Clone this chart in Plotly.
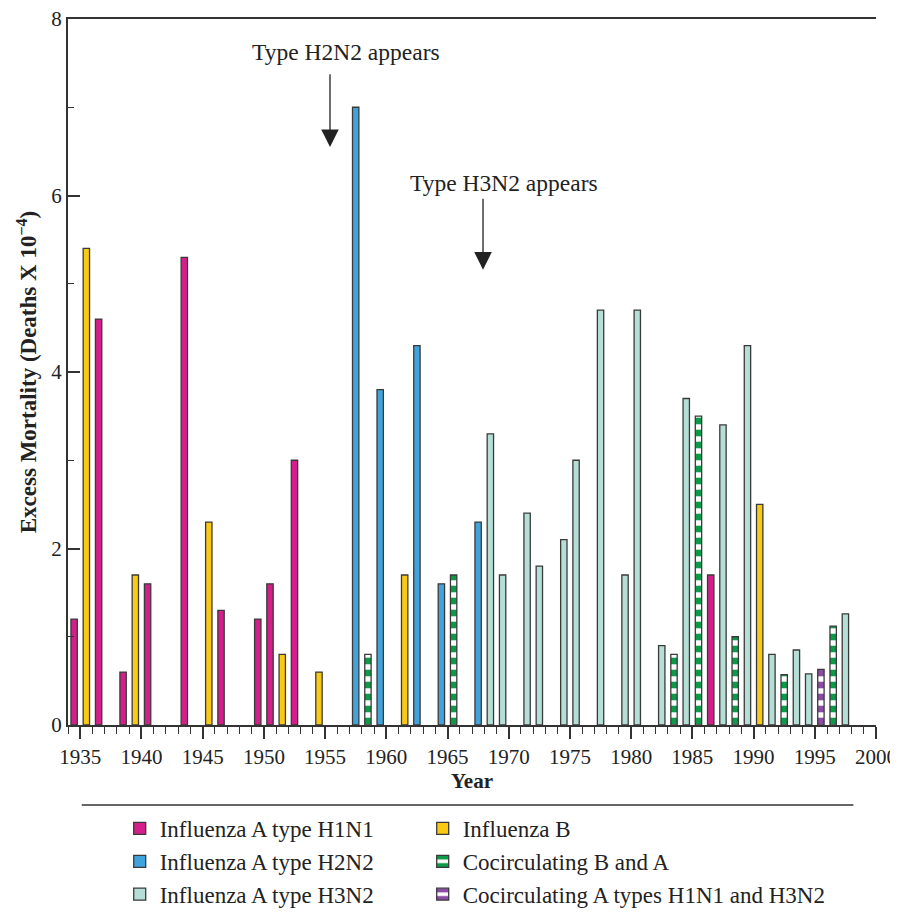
import plotly.graph_objects as go

# ---- data (season start year, excess mortality x1e-4) ----
h1n1_years = [1934, 1936, 1938, 1940, 1943, 1946, 1949, 1950, 1952, 1986]
h1n1_vals = [1.2, 4.6, 0.6, 1.6, 5.3, 1.3, 1.2, 1.6, 3.0, 1.7]

b_years = [1935, 1939, 1945, 1951, 1954, 1961, 1990]
b_vals = [5.4, 1.7, 2.3, 0.8, 0.6, 1.7, 2.5]

h2n2_years = [1957, 1959, 1962, 1964, 1967]
h2n2_vals = [7.0, 3.8, 4.3, 1.6, 2.3]

cocirc_ba_years = [1958, 1965, 1983, 1985, 1988, 1992, 1996]
cocirc_ba_vals = [0.8, 1.7, 0.8, 3.5, 1.0, 0.57, 1.12]

h3n2_years = [1968, 1969, 1971, 1972, 1974, 1975, 1977, 1979, 1980, 1982,
              1984, 1987, 1989, 1991, 1993, 1994, 1997]
h3n2_vals = [3.3, 1.7, 2.4, 1.8, 2.1, 3.0, 4.7, 1.7, 4.7, 0.9,
             3.7, 3.4, 4.3, 0.8, 0.85, 0.58, 1.26]

cocirc_a_years = [1995]
cocirc_a_vals = [0.63]

x_ticks = list(range(1935, 2001, 5))
y_ticks = [0, 2, 4, 6, 8]

SERIF = "Liberation Serif, Times New Roman, serif"
EDGE = "#3a3a3a"

fig = go.Figure()

def add_bars(name, years, vals, color, legend, pattern=None):
    marker = dict(color=color, line=dict(color=EDGE, width=1.3))
    if pattern is not None:
        marker["pattern"] = pattern
    fig.add_trace(go.Bar(name=name, x=years, y=vals, width=0.52, offset=0.24,
                         marker=marker, legend=legend))

green_pat = dict(shape="-", fgcolor="#0d9a48", bgcolor="white", size=12,
                 solidity=0.55, fillmode="replace")
purple_pat = dict(shape="-", fgcolor="#8d4ba8", bgcolor="white", size=12,
                  solidity=0.55, fillmode="replace")

add_bars("Influenza A type H1N1", h1n1_years, h1n1_vals, "#d41f8b", "legend")
add_bars("Influenza A type H2N2", h2n2_years, h2n2_vals, "#41a3dc", "legend")
add_bars("Influenza A type H3N2", h3n2_years, h3n2_vals, "#b5ded7", "legend")
add_bars("Influenza B", b_years, b_vals, "#f9c914", "legend2")
add_bars("Cocirculating B and A", cocirc_ba_years, cocirc_ba_vals, "white", "legend2", green_pat)
add_bars("Cocirculating A types H1N1 and H3N2", cocirc_a_years, cocirc_a_vals, "white", "legend2", purple_pat)

# arrows
for (x, y0, y1) in [(1955.4, 7.39, 6.55), (1967.9, 5.98, 5.16)]:
    fig.add_annotation(x=x, y=y1, ax=x, ay=y0, xref="x", yref="y",
                       axref="x", ayref="y", text="", showarrow=True,
                       arrowhead=2, arrowsize=2.7, arrowwidth=1.3,
                       arrowcolor="#222")
fig.add_annotation(x=1956.7, y=7.63, text="Type H2N2 appears", showarrow=False,
                   font=dict(family=SERIF, size=23.5, color="#222"))
fig.add_annotation(x=1969.6, y=6.14, text="Type H3N2 appears", showarrow=False,
                   font=dict(family=SERIF, size=23.5, color="#222"))

# separator line above legend
fig.add_shape(type="line", xref="paper", yref="paper", x0=0.017, x1=0.972,
              y0=-0.1133, y1=-0.1133, line=dict(color="#333", width=1.3))

legend_font = dict(family=SERIF, size=23, color="#222")

fig.update_layout(
    width=890, height=903,
    margin=dict(l=60, r=22, t=11, b=186, autoexpand=False),
    paper_bgcolor="white", plot_bgcolor="white",
    barmode="overlay",
    font=dict(family=SERIF, color="#222"),
    showlegend=True,
    legend=dict(orientation="v", x=0.064, xanchor="left", y=-0.1161, yanchor="top",
                bgcolor="rgba(0,0,0,0)",
                font=legend_font, traceorder="normal", itemclick=False),
    legend2=dict(orientation="v", x=0.439, xanchor="left", y=-0.1161, yanchor="top",
                 bgcolor="rgba(0,0,0,0)",
                 font=legend_font, traceorder="normal", itemclick=False),
    xaxis=dict(range=[1934, 2000], tickvals=x_ticks, ticks="outside", ticklen=12,
               tickwidth=1.5, tickcolor="#333", ticklabeloverflow="allow",
               minor=dict(dtick=1, tick0=1934, ticks="outside", ticklen=7,
                          tickwidth=1.3, tickcolor="#333"),
               showline=True, linecolor="#333", linewidth=2, mirror=True,
               showgrid=False, zeroline=False,
               tickfont=dict(family=SERIF, size=21, color="#222"),
               title=dict(text="<b>Year</b>", font=dict(family=SERIF, size=21, color="#222"),
                          standoff=4)),
    yaxis=dict(range=[0, 8], tickvals=y_ticks, ticks="inside", ticklen=12,
               tickwidth=1.5, tickcolor="#333", ticklabeloverflow="allow",
               minor=dict(dtick=1, tick0=0, ticks="inside", ticklen=6,
                          tickwidth=1.3, tickcolor="#333"),
               showline=True, linecolor="#333", linewidth=2,
               showgrid=False, zeroline=False,
               tickfont=dict(family=SERIF, size=21, color="#222"),
               title=dict(text="<b>Excess Mortality (Deaths X 10<sup>−4</sup>)</b>",
                          font=dict(family=SERIF, size=23, color="#222"),
                          standoff=8)),
    yaxis2=dict(range=[0, 8], overlaying="y", side="right", anchor="x",
                tickvals=y_ticks, ticks="inside", ticklen=12, tickwidth=1.5,
                tickcolor="#555", showticklabels=False,
                minor=dict(dtick=1, tick0=0, ticks="inside", ticklen=6,
                           tickwidth=1.3, tickcolor="#555"),
                showline=True, linecolor="#555", linewidth=2,
                showgrid=False, zeroline=False),
)

fig.write_html("out.html")
